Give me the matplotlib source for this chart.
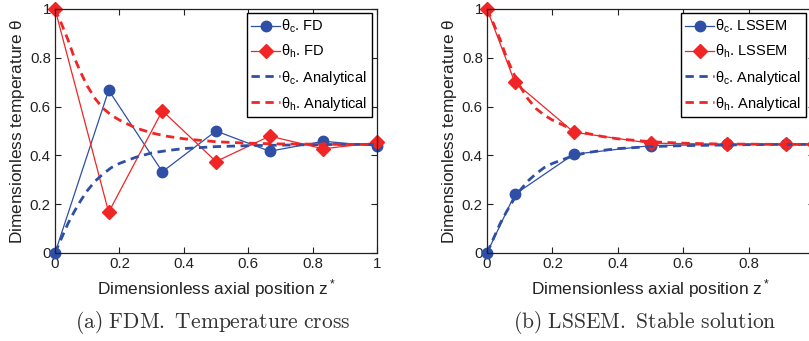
import numpy as np
import matplotlib
matplotlib.use('Agg')
import matplotlib.pyplot as plt

plt.rcParams.update({
    "font.family": ["Liberation Sans", "DejaVu Sans"],
    "mathtext.fontset": "custom",
    "mathtext.rm": "Liberation Sans",
    "mathtext.it": "Liberation Sans",
    "mathtext.default": "regular",
})

# FDM results (uniform grid)
z_fd = [0, 1/6, 2/6, 3/6, 4/6, 5/6, 1]
tc_fd = [0.0, 0.667, 0.333, 0.500, 0.417, 0.458, 0.438]
th_fd = [1.0, 0.167, 0.583, 0.375, 0.479, 0.427, 0.453]

# LSSEM results (GLL nodes)
z_ls = [0, 0.0849, 0.2656, 0.5, 0.7344, 0.9151, 1]
tc_ls = [0.0, 0.240, 0.405, 0.440, 0.445, 0.445, 0.445]
th_ls = [1.0, 0.700, 0.495, 0.450, 0.446, 0.445, 0.445]

# Analytical solution
z_an = [0, 0.02, 0.04, 0.06, 0.08, 0.1, 0.125, 0.15, 0.175, 0.2, 0.25, 0.3, 0.35,
        0.4, 0.5, 0.6, 0.7, 0.8, 0.9, 1.0]
tc_an = [0.0, 0.06, 0.12, 0.17, 0.215, 0.255, 0.295, 0.325, 0.35, 0.367, 0.392, 0.41,
         0.42, 0.428, 0.436, 0.44, 0.442, 0.444, 0.445, 0.445]
th_an = [1.0, 0.94, 0.875, 0.80, 0.74, 0.685, 0.632, 0.592, 0.565, 0.545, 0.513, 0.492,
         0.478, 0.468, 0.456, 0.45, 0.447, 0.446, 0.445, 0.445]

blue = "#2F4FA6"
red = "#F02626"

fig = plt.figure(figsize=(8.09, 3.41), dpi=100)

# axes rect, data, legend name, caption, caption x, legend upper-right corner
panels = [
    ([55 / 809, 88 / 341, 322 / 809, 244 / 341], z_fd, tc_fd, th_fd, 'FD',
     r'$\mathrm{(a)\ FDM.\ Temperature\ cross}$', 213 / 809,
     (372 / 809, (341 - 13) / 341)),
    ([487 / 809, 88 / 341, 327 / 809, 244 / 341], z_ls, tc_ls, th_ls, 'LSSEM',
     r'$\mathrm{(b)\ LSSEM.\ Stable\ solution}$', 645 / 809,
     (806 / 809, (341 - 13) / 341)),
]

for rect, z, tc, th, name, caption, cx, leg_xy in panels:
    ax = fig.add_axes(rect)
    ax.plot(z, tc, color=blue, lw=0.9, marker='o', ms=7.5, label=r'$\theta_c$. ' + name)
    ax.plot(z, th, color=red, lw=0.9, marker='D', ms=7, label=r'$\theta_h$. ' + name)
    ax.plot(z_an, tc_an, color=blue, lw=2.0, ls=(0, (3, 2)), label=r'$\theta_c$. Analytical')
    ax.plot(z_an, th_an, color=red, lw=2.0, ls=(0, (3, 2)), label=r'$\theta_h$. Analytical')
    for l in ax.lines:
        l.set_clip_on(False)

    ax.set_xlim(0, 1)
    ax.set_ylim(0, 1)
    ticks = [0, 0.2, 0.4, 0.6, 0.8, 1]
    labels = ['0', '0.2', '0.4', '0.6', '0.8', '1']
    ax.set_xticks(ticks)
    ax.set_xticklabels(labels)
    ax.set_yticks(ticks)
    ax.set_yticklabels(labels)
    ax.tick_params(direction='in', top=True, right=True, labelsize=10.8,
                   length=4, width=0.8, pad=3, colors='#222222')
    for s in ax.spines.values():
        s.set_linewidth(0.9)
        s.set_color('#222222')

    ax.set_xlabel(r'Dimensionless axial position z$^*$', fontsize=12.4, labelpad=4,
                  color='#222222')
    ax.set_ylabel(r'Dimensionless temperature $\theta$', fontsize=12.4, labelpad=2,
                  color='#222222')

    leg = ax.legend(loc='upper right', bbox_to_anchor=leg_xy, bbox_transform=fig.transFigure,
                    fontsize=10.5, frameon=True, fancybox=False,
                    borderaxespad=0, handlelength=2.0, handletextpad=0.05,
                    labelspacing=0.55, borderpad=0.32)
    leg.get_frame().set_edgecolor('black')
    leg.get_frame().set_linewidth(1.0)
    leg.get_frame().set_alpha(1)

    fig.text(cx, 0.038, caption, fontsize=15.5, ha='center', va='baseline',
             math_fontfamily='cm', color='#333333')

fig.savefig('out.png', dpi=100)
